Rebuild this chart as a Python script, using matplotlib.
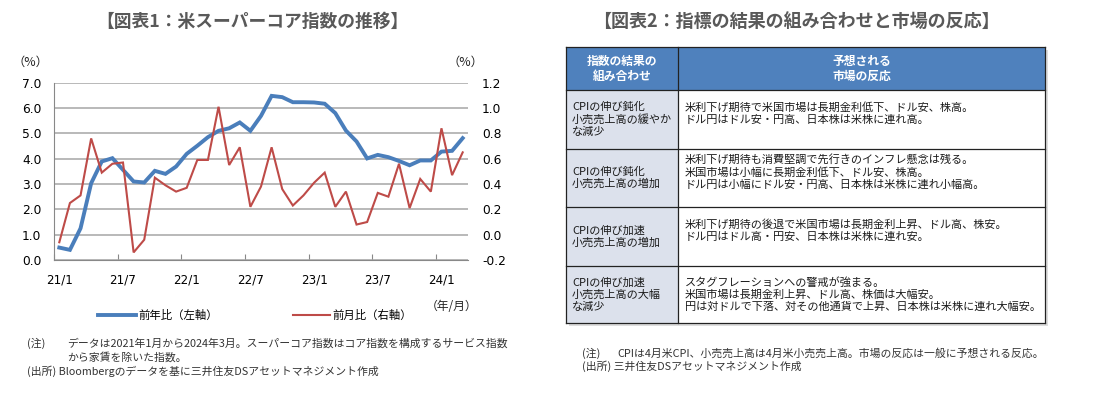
import matplotlib
matplotlib.use('Agg')
import matplotlib.pyplot as plt
from matplotlib.patches import Rectangle

plt.rcParams['font.family'] = ['Noto Sans CJK JP', 'DejaVu Sans']

# --- chart data (Jan 2021 - Mar 2024) ---
yoy = [0.49, 0.40, 1.25, 3.03, 3.89, 4.02, 3.56, 3.10, 3.06, 3.52,
       3.40, 3.69, 4.19, 4.51, 4.85, 5.10, 5.20, 5.43, 5.10, 5.69,
       6.48, 6.43, 6.23, 6.23, 6.22, 6.17, 5.80, 5.11, 4.68, 4.01,
       4.15, 4.06, 3.91, 3.74, 3.93, 3.93, 4.28, 4.31, 4.81]
mom = [-0.06, 0.25, 0.31, 0.76, 0.49, 0.56, 0.57, -0.14, -0.04, 0.45,
       0.39, 0.34, 0.37, 0.59, 0.59, 1.01, 0.55, 0.69, 0.22, 0.38,
       0.69, 0.36, 0.23, 0.31, 0.41, 0.49, 0.22, 0.34, 0.08, 0.10,
       0.33, 0.30, 0.56, 0.21, 0.44, 0.34, 0.84, 0.47, 0.65]
tick_labels = ['21/1', '21/7', '22/1', '22/7', '23/1', '23/7', '24/1']
series_names = ['前年比（左軸）', '前月比（右軸）']

# --- table data ---
col_headers = ['指数の結果の\n組み合わせ', '予想される\n市場の反応']
combos = ['CPIの伸び鈍化\n小売売上高の緩やか\nな減少',
          'CPIの伸び鈍化\n小売売上高の増加',
          'CPIの伸び加速\n小売売上高の増加',
          'CPIの伸び加速\n小売売上高の大幅\nな減少']
reactions = ['米利下げ期待で米国市場は長期金利低下、ドル安、株高。\nドル円はドル安・円高、日本株は米株に連れ高。\n',
             '米利下げ期待も消費堅調で先行きのインフレ懸念は残る。\n米国市場は小幅に長期金利低下、ドル安、株高。\nドル円は小幅にドル安・円高、日本株は米株に連れ小幅高。\n',
             '米利下げ期待の後退で米国市場は長期金利上昇、ドル高、株安。\nドル円はドル高・円安、日本株は米株に連れ安。\n',
             'スタグフレーションへの警戒が強まる。\n米国市場は長期金利上昇、ドル高、株価は大幅安。\n円は対ドルで下落、対その他通貨で上昇、日本株は米株に連れ大幅安。']

W, H = 1100, 397
BLUE = '#4A7EBB'
RED = '#BE4B48'
TITLE_C = '#595959'
NOTE_C = '#333333'

fig = plt.figure(figsize=(W / 100, H / 100), dpi=100)
fig.patch.set_facecolor('white')

# overlay in pixel coordinates for titles, notes and the table
ov = fig.add_axes([0, 0, 1, 1], zorder=0)
ov.set_xlim(0, W)
ov.set_ylim(H, 0)
ov.axis('off')

# --- line chart ---
x0, x1, ytop, ybot = 54, 468, 82.7, 260
ax = fig.add_axes([x0 / W, 1 - ybot / H, (x1 - x0) / W, (ybot - ytop) / H], zorder=2)
ax.patch.set_alpha(0)
xs = list(range(len(yoy)))
l1, = ax.plot(xs, yoy, color=BLUE, lw=2.8, solid_joinstyle='miter')
ax.set_ylim(0, 7)
ax.set_xlim(-0.5, len(yoy) - 0.5)
ax.set_yticks([i for i in range(8)])
ax.set_yticklabels([f'{i:.1f}' for i in range(8)], family='DejaVu Sans', fontsize=8.8)
ax.tick_params(axis='y', length=0, pad=9)
ax.set_xticks([-0.5 + 6 * k for k in range(len(tick_labels))])
ax.set_xticklabels([])
ax.set_xticks([6 * k for k in range(len(tick_labels))], minor=True)
ax.set_xticklabels(tick_labels, minor=True, family='DejaVu Sans', fontsize=8.6)
ax.tick_params(axis='x', which='major', direction='in', length=4, color='#888888')
ax.tick_params(axis='x', which='minor', length=0, pad=10)
ax.grid(axis='y', color='#A6A6A6', lw=1.1)
ax.set_axisbelow(True)
for s in ['top', 'right']:
    ax.spines[s].set_visible(False)
for s in ['left', 'bottom']:
    ax.spines[s].set_color('#888888')

ax2 = ax.twinx()
l2, = ax2.plot(xs, mom, color=RED, lw=1.5, solid_joinstyle='miter')
ax2.set_ylim(-0.2, 1.2)
rt = [-0.2 + 0.2 * i for i in range(8)]
ax2.set_yticks(rt)
ax2.set_yticklabels([f'{v:.1f}' for v in rt], family='DejaVu Sans', fontsize=8.8)
ax2.tick_params(axis='y', length=0, pad=10)
for s in ax2.spines.values():
    s.set_visible(False)

ov.text(30, 62, '（%）', ha='center', va='center', fontsize=8.8, color='#222222')
ov.text(465, 62, '（%）', ha='center', va='center', fontsize=8.8, color='#222222')
ov.text(452, 307, '（年/月）', ha='center', va='center', fontsize=8.5, color='#222222')

fig.legend([l1, l2], series_names, loc='center left',
           bbox_to_anchor=(88 / W, 1 - 315 / H), ncol=2, frameon=False,
           handlelength=3.3, columnspacing=6.6, handletextpad=0.2, fontsize=8.2)

ov.text(252, 22, '【図表1：米スーパーコア指数の推移】', ha='center', va='center',
        fontsize=12.8, fontweight='bold', color=TITLE_C)
ov.text(27, 343, '(注)', ha='left', va='center', fontsize=7.8, color=NOTE_C)
ov.text(67, 343, 'データは2021年1月から2024年3月。スーパーコア指数はコア指数を構成するサービス指数',
        ha='left', va='center', fontsize=7.8, color=NOTE_C)
ov.text(67, 357, 'から家賃を除いた指数。', ha='left', va='center', fontsize=7.8, color=NOTE_C)
ov.text(27, 371, '(出所) Bloombergのデータを基に三井住友DSアセットマネジメント作成',
        ha='left', va='center', fontsize=7.8, color=NOTE_C)

# --- table ---
ov.text(796, 22, '【図表2：指標の結果の組み合わせと市場の反応】', ha='center', va='center',
        fontsize=13, fontweight='bold', color=TITLE_C)
tx0, tx_mid, tx1 = 566, 678, 1045
row_edges = [47, 90, 149, 207, 266, 323]
HEAD = '#4F81BD'
FIRST = '#DCE1EC'
EDGE = '#222222'

# soft shadow
ov.add_patch(Rectangle((tx0 + 3, row_edges[0] + 3), tx1 - tx0, row_edges[-1] - row_edges[0],
                       facecolor='#DDDDDD', edgecolor='none', zorder=1))
ov.add_patch(Rectangle((tx0, row_edges[0]), tx1 - tx0, row_edges[1] - row_edges[0],
                       facecolor=HEAD, edgecolor='none', zorder=2))
for i in range(len(combos)):
    top, bot = row_edges[i + 1], row_edges[i + 2]
    ov.add_patch(Rectangle((tx0, top), tx_mid - tx0, bot - top,
                           facecolor=FIRST, edgecolor='none', zorder=2))
    ov.add_patch(Rectangle((tx_mid, top), tx1 - tx_mid, bot - top,
                           facecolor='white', edgecolor='none', zorder=2))
    ov.text(tx0 + 6, (top + bot) / 2, combos[i], ha='left', va='center',
            fontsize=8, color='#1a1a1a', linespacing=1.22, zorder=4)
    ov.text(tx_mid + 7, (top + bot) / 2, reactions[i], ha='left', va='center',
            fontsize=8, color='#1a1a1a', linespacing=1.22, zorder=4)

hy = (row_edges[0] + row_edges[1]) / 2
ov.text((tx0 + tx_mid) / 2, hy, col_headers[0], ha='center', va='center', fontsize=8.5,
        fontweight='bold', color='white', linespacing=1.2, zorder=4)
ov.text((tx_mid + tx1) / 2, hy, col_headers[1], ha='center', va='center', fontsize=8.5,
        fontweight='bold', color='white', linespacing=1.2, zorder=4)

for y in row_edges:
    ov.plot([tx0, tx1], [y, y], color=EDGE, lw=0.9, zorder=3)
for x in [tx0, tx_mid, tx1]:
    ov.plot([x, x], [row_edges[0], row_edges[-1]], color=EDGE, lw=0.9, zorder=3)

ov.text(582, 353, '(注)', ha='left', va='center', fontsize=7.8, color=NOTE_C)
ov.text(617, 353, 'CPIは4月米CPI、小売売上高は4月米小売売上高。市場の反応は一般に予想される反応。',
        ha='left', va='center', fontsize=7.8, color=NOTE_C)
ov.text(582, 366, '(出所) 三井住友DSアセットマネジメント作成', ha='left', va='center',
        fontsize=7.8, color=NOTE_C)

fig.savefig('out.png', dpi=100, facecolor='white')
